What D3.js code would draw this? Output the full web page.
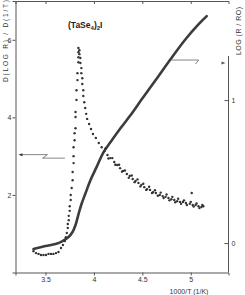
<!DOCTYPE html>
<html>
<head>
<meta charset="utf-8">
<script src="https://cdn.jsdelivr.net/npm/d3@7"></script>
<style>
  body { margin: 0; background: #fff; }
  svg { display: block; font-family: "Liberation Sans", Arial, sans-serif; }
  .axis text { font-size: 7px; fill: #333; }
  .axis path, .axis line { stroke: #555; }
</style>
</head>
<body>
<div id="chart"></div>
<script>
// LOG(R/R0) curve, right axis
var logX = [3.376, 3.5, 3.603, 3.676, 3.738, 3.779, 3.810, 3.841, 3.872, 3.914, 3.965, 4.027,
            4.100, 4.172, 4.276, 4.379, 4.503, 4.638, 4.793, 4.948, 5.082, 5.165];
var logR = [-0.042, -0.021, -0.007, 0.014, 0.042, 0.077, 0.126, 0.203, 0.273, 0.350, 0.441, 0.531,
            0.636, 0.706, 0.804, 0.895, 1.014, 1.140, 1.287, 1.427, 1.531, 1.587];

// D(LOG R)/D(1/T) points, left axis
var derivX = [3.376, 3.402, 3.428, 3.453, 3.479, 3.505, 3.531, 3.557, 3.582, 3.608, 3.634,
  3.66, 3.68, 3.70, 3.71, 3.72, 3.73, 3.73, 3.74, 3.74, 3.75, 3.75, 3.76, 3.76, 3.77, 3.78, 3.78,
  3.79, 3.79, 3.79, 3.80, 3.80, 3.81, 3.81, 3.81, 3.82, 3.82, 3.83, 3.83, 3.84, 3.84, 3.84, 3.84,
  3.85, 3.85, 3.86, 3.86, 3.87, 3.87, 3.88, 3.88, 3.89, 3.89, 3.90, 3.91, 3.92, 3.93, 3.95, 3.97,
  3.99, 4.02, 4.05, 4.08, 4.11, 4.14, 4.17, 4.21, 4.24, 4.27, 4.30, 4.34, 4.37, 4.40, 4.43, 4.46,
  4.49, 4.52, 4.55, 4.58, 4.61, 4.64, 4.68, 4.71, 4.74, 4.77, 4.80, 4.83, 4.86, 4.89, 4.92, 4.95,
  4.99, 5.02, 5.05, 5.08, 5.11, 5.13,
  4.12, 4.15, 4.19, 4.22, 4.26, 4.29, 4.32, 4.36, 4.39, 4.42, 4.45, 4.48, 4.51, 4.54, 4.57, 4.60,
  4.63, 4.66, 4.69, 4.72, 4.75, 4.78, 4.81, 4.84, 4.87, 4.90, 4.93, 4.96, 5.01, 5.00, 5.03, 5.06,
  5.09, 5.12];
var derivY = [0.55, 0.50, 0.48, 0.45, 0.45, 0.45, 0.48, 0.48, 0.48, 0.50, 0.53,
  0.63, 0.71, 0.81, 0.91, 1.02, 1.15, 1.25, 1.35, 1.46, 1.59, 1.71, 1.87, 2.00, 2.18, 2.38, 2.59,
  2.82, 3.00, 3.23, 3.41, 3.59, 3.72, 4.01, 4.14, 4.45, 4.70, 4.96, 5.14, 5.42, 5.55, 5.68, 5.79,
  5.73, 5.63, 5.53, 5.40, 5.27, 5.14, 5.01, 4.86, 4.70, 4.55, 4.39, 4.24, 4.09, 3.96, 3.83, 3.70,
  3.57, 3.47, 3.34, 3.23, 3.13, 3.03, 2.95, 2.85, 2.77, 2.69, 2.62, 2.54, 2.49, 2.41, 2.36, 2.31,
  2.26, 2.20, 2.15, 2.13, 2.07, 2.05, 2.00, 1.97, 1.95, 1.92, 1.89, 1.87, 1.84, 1.82, 1.82, 1.79,
  1.77, 1.74, 1.74, 1.71, 1.69, 1.71,
  3.20, 2.94, 2.95, 2.78, 2.78, 2.60, 2.63, 2.44, 2.50, 2.33, 2.40, 2.22, 2.29, 2.13, 2.21, 2.05,
  2.12, 1.98, 2.06, 1.92, 2.01, 1.86, 1.95, 1.81, 1.90, 1.77, 1.86, 1.74, 2.05, 1.82, 1.70, 1.78,
  1.66, 1.74];

var xTicks = [3.5, 4, 4.5, 5];
var xTickLabels = ["3.5", "4", "4.5", "5"];
var leftTicks = [2, 4, 6];
var rightTicks = [0, 1];

var W = 245, H = 295;
var svg = d3.select("#chart").append("svg")
    .attr("width", W)
    .attr("height", H);

var x = d3.scaleLinear().domain([3.19, 5.39]).range([15.5, 228.5]);
var yL = d3.scaleLinear().domain([0, 7]).range([272.5, 1]);
var yR = d3.scaleLinear().domain([-0.206, 1.693]).range([272.5, 1]);

// axes
svg.append("g").attr("class", "axis")
    .attr("transform", "translate(0,272.5)")
    .call(d3.axisBottom(x).tickValues(xTicks).tickSize(3).tickPadding(2)
        .tickFormat(function (d, i) { return xTickLabels[i]; }));

svg.append("g").attr("class", "axis")
    .attr("transform", "translate(0,1)")
    .call(d3.axisTop(x).tickValues(xTicks).tickSize(-3).tickFormat(""))
    .select(".domain").attr("stroke", "#bbb");

svg.append("g").attr("class", "axis")
    .attr("transform", "translate(15.5,0)")
    .call(d3.axisLeft(yL).tickValues(leftTicks).tickSize(3).tickPadding(1)
        .tickFormat(d3.format("d")));

var rAxis = svg.append("g").attr("class", "axis")
    .attr("transform", "translate(228.5,0)")
    .call(d3.axisRight(yR).tickValues(rightTicks).tickSize(-4).tickPadding(3)
        .tickFormat(d3.format("d")));
rAxis.select(".domain").remove();
rAxis.append("line")
    .attr("x1", 0).attr("x2", 0)
    .attr("y1", 56).attr("y2", 272.5)
    .attr("stroke", "#555");

// LOG(R/R0) line
var logData = logX.map(function (v, i) { return [v, logR[i]]; });
svg.append("path")
    .datum(logData)
    .attr("fill", "none")
    .attr("stroke", "#3c3c3c")
    .attr("stroke-width", 2.6)
    .attr("stroke-linecap", "round")
    .attr("d", d3.line()
        .x(function (d) { return x(d[0]); })
        .y(function (d) { return yR(d[1]); })
        .curve(d3.curveCatmullRom));

// derivative dots
var derivData = derivX.map(function (v, i) { return [v, derivY[i]]; });
svg.selectAll(".dot")
    .data(derivData)
    .enter().append("circle")
    .attr("class", "dot")
    .attr("cx", function (d) { return x(d[0]); })
    .attr("cy", function (d) { return yL(d[1]); })
    .attr("r", 1.2)
    .attr("fill", "#333");

// arrows showing which axis each curve belongs to
var ay = yL(3.0);
svg.append("path")
    .attr("d", "M" + x(3.7) + "," + (ay + 2) + "H" + x(3.47) + "L" + x(3.52) + "," + (ay - 1.5) + "H" + (x(3.19) + 5))
    .attr("fill", "none").attr("stroke", "#666").attr("stroke-width", 0.8);
svg.append("path")
    .attr("d", "M" + (x(3.19) + 3) + "," + (ay - 1.5) + "l4,-1.5v3z")
    .attr("fill", "#333");

var by = yR(1.28);
svg.append("path")
    .attr("d", "M" + x(4.8) + "," + by + "H" + x(5.08) + "L" + x(5.05) + "," + (by + 4))
    .attr("fill", "none").attr("stroke", "#666").attr("stroke-width", 0.8);
svg.append("path")
    .attr("d", "M" + (x(5.39) - 3) + "," + (by + 3) + "l-4,-1.5v3z")
    .attr("fill", "#555");

// labels
var title = svg.append("text")
    .attr("x", 68).attr("y", 28)
    .attr("font-size", 8.5).attr("font-weight", "bold").attr("fill", "#222");
title.append("tspan").text("(TaSe");
title.append("tspan").attr("font-size", 6).attr("dy", 2).text("4");
title.append("tspan").attr("dy", -2).text(")");
title.append("tspan").attr("font-size", 6).attr("dy", 2).text("2");
title.append("tspan").attr("dy", -2).text("I");

svg.append("text")
    .attr("transform", "translate(8,41) rotate(-90)")
    .attr("text-anchor", "middle")
    .attr("font-size", 6.5).attr("fill", "#333")
    .attr("textLength", 82)
    .text("D(LOG R) / D(1/T)");

svg.append("text")
    .attr("transform", "translate(240.5,31) rotate(-90)")
    .attr("text-anchor", "middle")
    .attr("font-size", 7).attr("fill", "#333")
    .attr("textLength", 48)
    .text("LOG (R / RO)");

svg.append("text")
    .attr("x", 189).attr("y", 294)
    .attr("text-anchor", "middle")
    .attr("font-size", 7).attr("fill", "#333")
    .text("1000/T (1/K)");
</script>
</body>
</html>
